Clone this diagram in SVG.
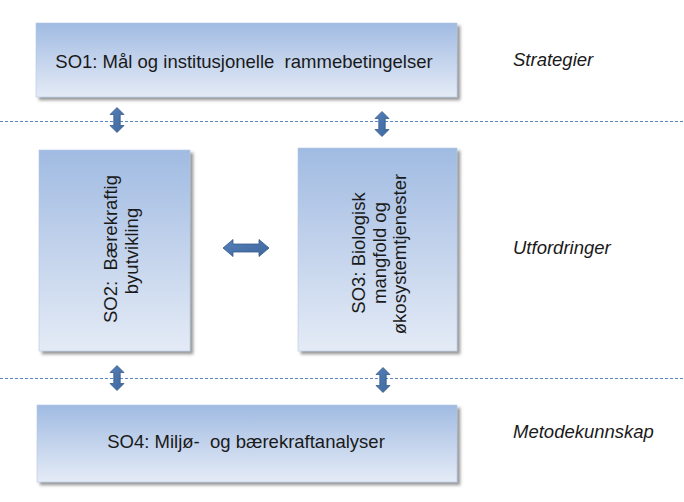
<svg xmlns="http://www.w3.org/2000/svg" width="684" height="502" viewBox="0 0 684 502">
  <style>
    .box { fill: url(#boxGrad); stroke: #b3c6e3; stroke-width: 0.6; filter: url(#shadow); }
    .lbl { font-family: "Liberation Sans", Arial, sans-serif; font-size: 18.5px; fill: #1a1a1a; }
    .mid { text-anchor: middle; }
    .side { font-style: italic; }
    .dash { stroke: #5b87c0; stroke-width: 1; stroke-dasharray: 3 2; fill: none; }
    .arrow { fill: url(#arrowGrad); stroke: #355a8c; stroke-width: 0.8; }
  </style>
  <defs>
    <linearGradient id="boxGrad" x1="0" y1="0" x2="0" y2="1">
      <stop offset="0" stop-color="#a0bbe2"/>
      <stop offset="0.5" stop-color="#c3d3ec"/>
      <stop offset="1" stop-color="#e4ebf6"/>
    </linearGradient>
    <linearGradient id="arrowGrad" x1="0" y1="0" x2="1" y2="1">
      <stop offset="0" stop-color="#5580b9"/>
      <stop offset="1" stop-color="#3f679e"/>
    </linearGradient>
    <filter id="shadow" x="-10%" y="-10%" width="125%" height="130%">
      <feDropShadow dx="3" dy="3" stdDeviation="1.8" flood-color="#555555" flood-opacity="0.6"/>
    </filter>
    <path id="vArrow" d="M0,-12.5 L7,-5.5 L3.2,-5.5 L3.2,5.5 L7,5.5 L0,12.5 L-7,5.5 L-3.2,5.5 L-3.2,-5.5 L-7,-5.5 Z"/>
    <path id="hArrow" d="M-23,0 L-13,-8.5 L-13,-4 L13,-4 L13,-8.5 L23,0 L13,8.5 L13,4 L-13,4 L-13,8.5 Z"/>
  </defs>

  <rect width="684" height="502" fill="#ffffff"/>

  <g id="separators">
    <line class="dash" x1="0" y1="121.5" x2="684" y2="121.5"/>
    <line class="dash" x1="0" y1="378.5" x2="684" y2="378.5"/>
  </g>

  <g id="SO1">
    <rect class="box" x="36" y="23" width="421" height="74"/>
    <text class="lbl mid" x="244" y="68" xml:space="preserve">SO1: Mål og institusjonelle  rammebetingelser</text>
  </g>

  <g id="SO2">
    <rect class="box" x="39" y="150" width="151" height="201"/>
    <text class="lbl mid" transform="translate(117,249) rotate(-90)" xml:space="preserve">SO2:  Bærekraftig</text>
    <text class="lbl mid" transform="translate(138,251) rotate(-90)">byutvikling</text>
  </g>

  <g id="SO3">
    <rect class="box" x="298" y="148" width="159" height="203"/>
    <text class="lbl mid" transform="translate(365,253) rotate(-90)">SO3: Biologisk</text>
    <text class="lbl mid" transform="translate(386,253) rotate(-90)">mangfold og</text>
    <text class="lbl mid" transform="translate(406,254) rotate(-90)">økosystemtjenester</text>
  </g>

  <g id="SO4">
    <rect class="box" x="37" y="405" width="420" height="77"/>
    <text class="lbl mid" x="246" y="448" xml:space="preserve">SO4: Miljø-  og bærekraftanalyser</text>
  </g>

  <g id="labels">
    <text class="lbl side" x="513" y="66">Strategier</text>
    <text class="lbl side" x="513" y="254">Utfordringer</text>
    <text class="lbl side" x="513" y="438">Metodekunnskap</text>
  </g>

  <g id="connectors">
    <use href="#vArrow" class="arrow" transform="translate(117,120)"/>
    <use href="#vArrow" class="arrow" transform="translate(382,124)"/>
    <use href="#hArrow" class="arrow" transform="translate(246,248)"/>
    <use href="#vArrow" class="arrow" transform="translate(117,378)"/>
    <use href="#vArrow" class="arrow" transform="translate(383,380)"/>
  </g>
</svg>
